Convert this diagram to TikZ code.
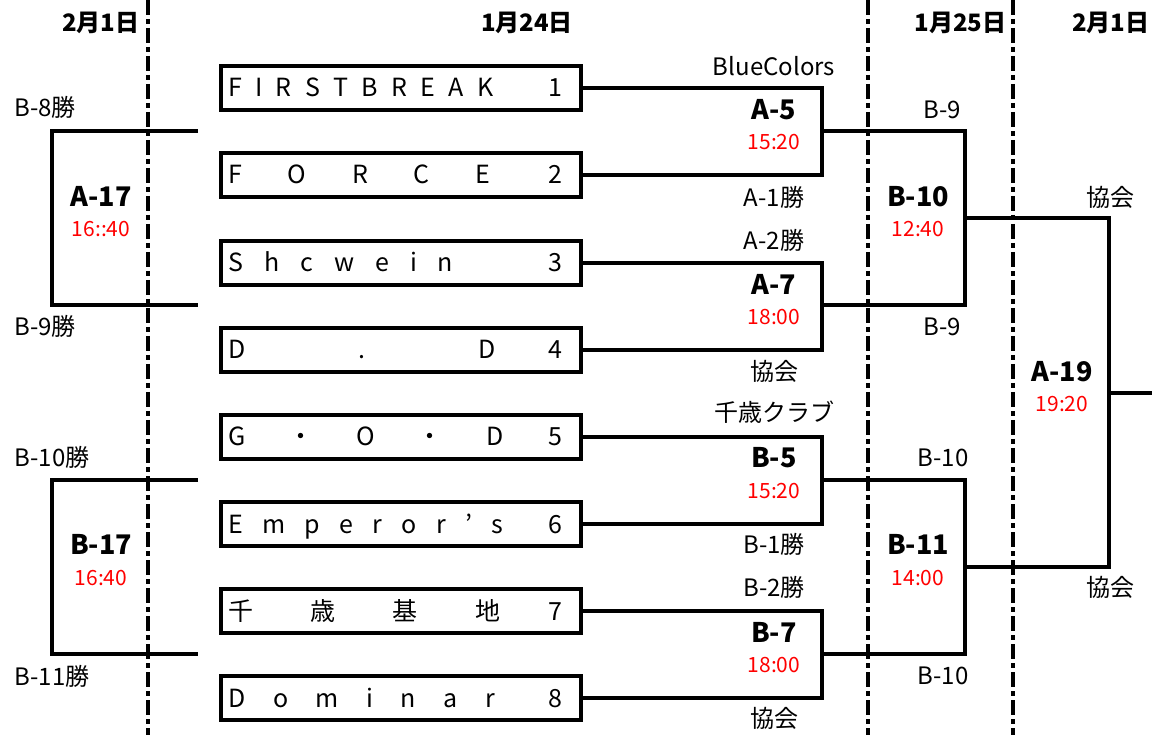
\documentclass[tikz,border=0pt]{standalone}
\usepackage{fontspec}
\setmainfont{Noto Sans CJK JP}
\newcommand\teamtext[3]{\makebox[334pt][l]{\makebox[#1pt][s]{#2}\hfill #3}}
\newcommand\spreadtxt[2]{\makebox[#1pt][s]{#2}}
\begin{document}
\begin{tikzpicture}[x=1pt,y=-1pt,
  team/.style={draw,line width=3.2pt,minimum width=360pt,minimum height=44pt,inner sep=0pt},
  tname/.style={anchor=west,inner sep=0pt,text height=18pt,text depth=0pt,font=\fontsize{25}{25}\selectfont},
  lbl/.style={inner sep=0pt,text height=17pt,text depth=0pt,font=\fontsize{24}{24}\selectfont},
  game/.style={inner sep=0pt,text height=19.5pt,text depth=0pt,font=\fontsize{27}{27}\selectfont\bfseries},
  tm/.style={inner sep=0pt,text height=15pt,text depth=0pt,text=red,font=\fontsize{21}{21}\selectfont},
  hdr/.style={inner sep=0pt,text height=18pt,text depth=0pt,font=\fontsize{24}{24}\selectfont\bfseries},
  sepline/.style={line width=3.2pt,dash pattern=on 15pt off 4pt on 5pt off 4pt},
  brk/.style={line width=3.2pt}]
\useasboundingbox (0,0) rectangle (1152,735);

% separators
\coordinate (s1t) at (148,0); \coordinate (s1b) at (148,735);
\coordinate (s2t) at (868,0); \coordinate (s2b) at (868,735);
\coordinate (s3t) at (1013,0); \coordinate (s3b) at (1013,735);
\draw[sepline] (s1t) -- (s1b);
\draw[sepline] (s2t) -- (s2b);
\draw[sepline] (s3t) -- (s3b);

% headers
\node[hdr] (h1) at (100,23) {\spreadtxt{76}{2\hfill 月\hfill 1\hfill 日}};
\node[hdr] (h2) at (527,23) {\spreadtxt{92}{1\hfill 月\hfill 2\hfill 4\hfill 日}};
\node[hdr] (h3) at (959,23) {\spreadtxt{89}{1\hfill 月\hfill 2\hfill 5\hfill 日}};
\node[hdr] (h4) at (1110,23) {\spreadtxt{76}{2\hfill 月\hfill 1\hfill 日}};

% team boxes
\node[team] (b1) at (401,88) {};
\node[team] (b2) at (401,175) {};
\node[team] (b3) at (401,263) {};
\node[team] (b4) at (401,350) {};
\node[team] (b5) at (401,437) {};
\node[team] (b6) at (401,524) {};
\node[team] (b7) at (401,611) {};
\node[team] (b8) at (401,698) {};

\node[tname] (t1) at (228,88) {\teamtext{265}{F\hfill I\hfill R\hfill S\hfill T\hfill B\hfill R\hfill E\hfill A\hfill K}{1}};
\node[tname] (t2) at (228,175) {\teamtext{262}{F\hfill O\hfill R\hfill C\hfill E}{2}};
\node[tname] (t3) at (228,263) {\teamtext{225}{S\hfill h\hfill c\hfill w\hfill e\hfill i\hfill n}{3}};
\node[tname] (t4) at (228,350) {\teamtext{267}{D\hfill .\hfill D}{4}};
\node[tname] (t5) at (228,437) {\teamtext{275}{G\hfill ・\hfill O\hfill ・\hfill D}{5}};
\node[tname] (t6) at (228,524) {\teamtext{275}{E\hfill m\hfill p\hfill e\hfill r\hfill o\hfill r\hfill ’\hfill s}{6}};
\node[tname] (t7) at (228,611) {\teamtext{272}{千\hfill 歳\hfill 基\hfill 地}{7}};
\node[tname] (t8) at (228,698) {\teamtext{267}{D\hfill o\hfill m\hfill i\hfill n\hfill a\hfill r}{8}};

% bracket joints
\coordinate (m5a) at (822,131);
\coordinate (m7a) at (822,305);
\coordinate (m5b) at (822,480);
\coordinate (m7b) at (822,654);
\coordinate (m10) at (965,218);
\coordinate (m11) at (965,567);
\coordinate (m19) at (1109,393);
\coordinate (fin) at (1152,393);

\draw[brk] (b1.east) -| (m5a) |- (b2.east);
\draw[brk] (b3.east) -| (m7a) |- (b4.east);
\draw[brk] (b5.east) -| (m5b) |- (b6.east);
\draw[brk] (b7.east) -| (m7b) |- (b8.east);
\draw[brk] (m5a) -| (m10) |- (m7a);
\draw[brk] (m5b) -| (m11) |- (m7b);
\draw[brk] (m10) -| (m19) |- (m11);
\draw[brk] (m19) -- (fin);

% left brackets
\coordinate (la1) at (198,131);
\coordinate (la2) at (198,305);
\coordinate (l17) at (52,218);
\coordinate (lb1) at (198,480);
\coordinate (lb2) at (198,654);
\coordinate (l17b) at (52,567);
\draw[brk] (la1) -| (l17) |- (la2);
\draw[brk] (lb1) -| (l17b) |- (lb2);

% left labels
\node[lbl] (q1) at (45,108) {B-8勝};
\node[lbl] (q2) at (45,327) {B-9勝};
\node[lbl] (q3) at (52,458) {B-10勝};
\node[lbl] (q4) at (52,677) {B-11勝};
\node[game] (g17a) at (101,197) {A-17};
\node[tm] (r17a) at (101,229) {16::40};
\node[game] (g17b) at (101,545) {B-17};
\node[tm] (r17b) at (101,578) {16:40};

% first round labels
\node[lbl] (p1) at (774,67) {BlueColors};
\node[game] (gA5) at (774,110) {A-5};
\node[tm] (rA5) at (774,142) {15:20};
\node[lbl] (p2) at (774,198) {A-1勝};
\node[lbl] (p3) at (774,241) {A-2勝};
\node[game] (gA7) at (774,285) {A-7};
\node[tm] (rA7) at (774,317) {18:00};
\node[lbl] (p4) at (774,372) {協会};
\node[lbl] (p5) at (774,413) {千歳クラブ};
\node[game] (gB5) at (774,458) {B-5};
\node[tm] (rB5) at (774,491) {15:20};
\node[lbl] (p6) at (774,545) {B-1勝};
\node[lbl] (p7) at (774,588) {B-2勝};
\node[game] (gB7) at (774,633) {B-7};
\node[tm] (rB7) at (774,665) {18:00};
\node[lbl] (p8) at (774,719) {協会};

% second round labels
\node[lbl] (u1) at (942,110) {B-9};
\node[game] (gB10) at (918,197) {B-10};
\node[tm] (rB10) at (918,229) {12:40};
\node[lbl] (u2) at (942,327) {B-9};
\node[lbl] (u3) at (943,458) {B-10};
\node[game] (gB11) at (918,545) {B-11};
\node[tm] (rB11) at (918,578) {14:00};
\node[lbl] (u4) at (943,676) {B-10};

% final labels
\node[lbl] (v1) at (1110,198) {協会};
\node[game] (gA19) at (1062,372) {A-19};
\node[tm] (rA19) at (1062,404) {19:20};
\node[lbl] (v2) at (1110,588) {協会};
\end{tikzpicture}
\end{document}
